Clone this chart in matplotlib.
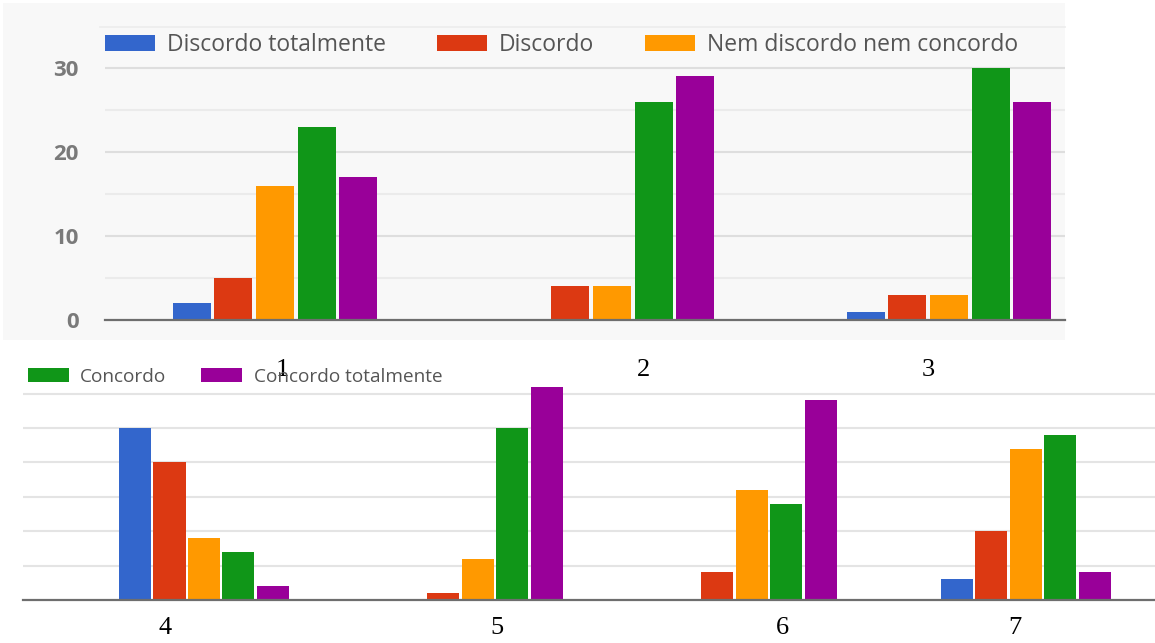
import numpy as np
import matplotlib.pyplot as plt
from matplotlib.patches import Rectangle
from matplotlib.lines import Line2D

# Likert answers per question (counts of respondents, 63 in total)
series = ['Discordo totalmente', 'Discordo', 'Nem discordo nem concordo',
          'Concordo', 'Concordo totalmente']
colors = ['#3366cc', '#dc3912', '#ff9900', '#109618', '#990099']

top_questions = ['1', '2', '3']
top_counts = [
    [2, 0, 1],      # Discordo totalmente
    [5, 4, 3],      # Discordo
    [16, 4, 3],     # Nem discordo nem concordo
    [23, 26, 30],   # Concordo
    [17, 29, 26],   # Concordo totalmente
]

bottom_questions = ['4', '5', '6', '7']
bottom_counts = [
    [25, 0, 0, 3],
    [20, 1, 4, 10],
    [9, 6, 16, 22],
    [7, 25, 14, 24],
    [2, 31, 29, 4],
]

W, H = 1155, 643
plt.rcParams['font.family'] = ['Open Sans', 'DejaVu Sans']
fig = plt.figure(figsize=(W / 100, H / 100), dpi=100)


def px(x0, y0, x1, y1):
    # pixel box (top-left origin) -> figure fraction rect
    return [x0 / W, 1 - y1 / H, (x1 - x0) / W, (y1 - y0) / H]


# light grey card behind the upper chart
fig.patches.append(Rectangle((3 / W, 1 - 340 / H), 1062 / W, 337 / H,
                             transform=fig.transFigure, facecolor='#f8f8f8',
                             edgecolor='none', zorder=-5))
fig.lines.append(Line2D([100 / W, 1065 / W], [1 - 27 / H, 1 - 27 / H],
                        transform=fig.transFigure, color='#ececec', lw=1.2,
                        zorder=-4))


def bar_panel(ax, counts, pitch, width, grid_major, grid_minor):
    n = len(counts[0])
    x = np.arange(n)
    handles = []
    for i, (vals, c) in enumerate(zip(counts, colors)):
        h = ax.bar(x + (i - 2) * pitch, vals, width, color=c, zorder=3,
                   linewidth=0)
        handles.append(h)
    for v in range(5, 31, 5):
        col = grid_major if v % 10 == 0 else grid_minor
        ax.axhline(v, color=col, lw=1.5, zorder=1)
    for s in ['top', 'right', 'left']:
        ax.spines[s].set_visible(False)
    ax.spines['bottom'].set_color('#6e6e6e')
    ax.spines['bottom'].set_linewidth(1.6)
    ax.spines['bottom'].set_zorder(4)
    ax.set_xticks([])
    ax.patch.set_visible(False)
    return handles


# upper chart: questions 1-3
ax1 = fig.add_axes(px(105, 62, 1065, 320))
h1 = bar_panel(ax1, top_counts, 0.1234, 0.1128, '#dedede', '#ebebeb')
ax1.set_xlim(-0.5045, 2.344)
ax1.set_ylim(0, 30.71)
ax1.set_yticks([0, 10, 20, 30])
ax1.tick_params(axis='y', length=0, pad=19, labelsize=16, labelcolor='#7a7a7a')
for t in ax1.get_yticklabels():
    t.set_fontweight('bold')

# lower chart: questions 4-7
ax2 = fig.add_axes(px(23, 385, 1155, 600))
h2 = bar_panel(ax2, bottom_counts, 0.1259, 0.1168, '#e4e4e4', '#e4e4e4')
ax2.set_xlim(-0.6606, 3.471)
ax2.set_ylim(0, 31.25)
ax2.set_yticks([])

fig.legend(h1[:3], series[:3], loc='center left',
           bbox_to_anchor=(105 / W, 1 - 45 / H), frameon=False, ncol=3,
           fontsize=16.5, labelcolor='#555555', handlelength=2.2,
           handleheight=0.7, handletextpad=0.52, columnspacing=2.2,
           borderpad=0, borderaxespad=0)
fig.legend(h2[3:], series[3:], loc='center left',
           bbox_to_anchor=(28 / W, 1 - 377 / H), frameon=False, ncol=2,
           fontsize=13.7, labelcolor='#555555', handlelength=2.16,
           handleheight=0.74, handletextpad=0.58, columnspacing=1.84,
           borderpad=0, borderaxespad=0)

# question numbers typed under each chart
top_label_x = [282, 643, 928]
bottom_label_x = [165, 497, 782, 1015]
for q, xp in zip(top_questions, top_label_x):
    fig.text(xp / W, 1 - 370 / H, q, ha='center', va='center',
             fontsize=19, family='Liberation Serif', color='black')
for q, xp in zip(bottom_questions, bottom_label_x):
    fig.text(xp / W, 1 - 628 / H, q, ha='center', va='center',
             fontsize=19, family='Liberation Serif', color='black')

fig.savefig('out.png', dpi=100, facecolor='white')
